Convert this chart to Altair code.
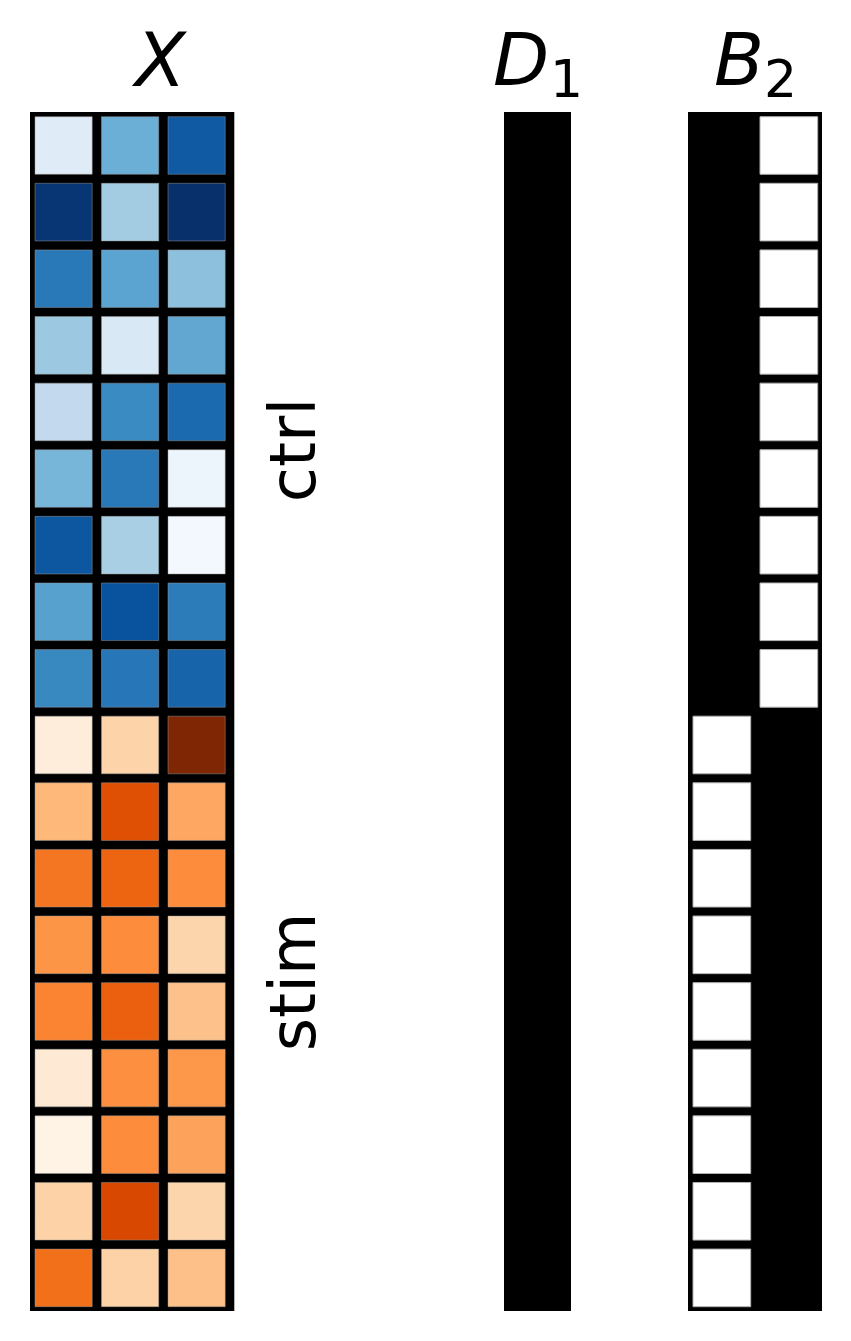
import altair as alt
import pandas as pd

# ---------------- data ----------------
# X: 9 "ctrl" rows (Blues) and 9 "stim" rows (Oranges), 3 columns each,
# values are positions on the colour map (0 = lightest, 1 = darkest)
ctrl_values = [
    [0.12, 0.50, 0.84],
    [0.98, 0.36, 1.00],
    [0.72, 0.55, 0.42],
    [0.38, 0.15, 0.53],
    [0.26, 0.65, 0.78],
    [0.47, 0.72, 0.05],
    [0.85, 0.34, 0.02],
    [0.56, 0.87, 0.71],
    [0.66, 0.73, 0.80],
]
stim_values = [
    [0.07, 0.23, 1.00],
    [0.34, 0.72, 0.40],
    [0.58, 0.64, 0.50],
    [0.47, 0.50, 0.22],
    [0.53, 0.66, 0.30],
    [0.10, 0.49, 0.46],
    [0.02, 0.50, 0.42],
    [0.24, 0.75, 0.22],
    [0.60, 0.24, 0.31],
]
# D1: one indicator column, every sample = 1
d1_values = [1, 1, 1, 1, 1, 1, 1, 1, 1, 1, 1, 1, 1, 1, 1, 1, 1, 1]
# B2: two indicator columns (ctrl, stim)
b2_values = [
    [1, 0], [1, 0], [1, 0], [1, 0], [1, 0], [1, 0], [1, 0], [1, 0], [1, 0],
    [0, 1], [0, 1], [0, 1], [0, 1], [0, 1], [0, 1], [0, 1], [0, 1], [0, 1],
]
group_labels = ["ctrl", "stim"]
titles = ["X", "D", "B"]
subscripts = ["1", "2"]

blues = ["#f7fbff", "#deebf7", "#c6dbef", "#9ecae1", "#6baed6",
         "#4292c6", "#2171b5", "#08519c", "#08306b"]
oranges = ["#fff5eb", "#fee6ce", "#fdd0a2", "#fdae6b", "#fd8d3c",
           "#f16913", "#d94801", "#a63603", "#7f2704"]
stops = [i / 8 for i in range(9)]


def cells(matrix, row_start=0):
    recs = []
    for r, row in enumerate(matrix):
        for c, v in enumerate(row):
            recs.append({"row": row_start + r, "row2": row_start + r + 1,
                         "col": c, "col2": c + 1, "v": v})
    return pd.DataFrame(recs)


ctrl_df = cells(ctrl_values, 0)
stim_df = cells(stim_values, len(ctrl_values))
d1_df = cells([[v] for v in d1_values])
b2_df = cells(b2_values)

n_rows = len(ctrl_values) + len(stim_values)
yscale = alt.Scale(domain=[0, n_rows], range=[112, 1311])
x_X = alt.Scale(domain=[0, 3], range=[30, 229.5])
x_D = alt.Scale(domain=[0, 1], range=[504, 571])
x_B = alt.Scale(domain=[0, 2], range=[688, 822])
bw = alt.Scale(domain=[0, 1], range=["#ffffff", "#000000"])

INS = dict(xOffset=5, x2Offset=-4.3, yOffset=4.7, y2Offset=-4.3)


def background(df, xs, extra=0):
    panel = pd.DataFrame([{"x0": 0, "x1": df["col2"].max(),
                           "y0": 0, "y1": n_rows}])
    return alt.Chart(panel).mark_rect(color="black", x2Offset=extra).encode(
        x=alt.X("x0:Q", scale=xs, axis=None),
        x2="x1:Q",
        y=alt.Y("y0:Q", scale=yscale, axis=None),
        y2="y1:Q",
    )


def cell_layer(df, xs, color_scale, binary=False):
    enc = dict(
        x=alt.X("col:Q", scale=xs, axis=None),
        x2="col2:Q",
        y=alt.Y("row:Q", scale=yscale, axis=None),
        y2="row2:Q",
        fill=alt.Fill("v:Q", scale=color_scale, legend=None),
    )
    if binary:
        enc["stroke"] = alt.condition(alt.datum.v == 0,
                                      alt.value("#b0b0b0"), alt.value("#000000"))
        return alt.Chart(df).mark_rect(strokeWidth=1, **INS).encode(**enc)
    return alt.Chart(df).mark_rect(stroke="#9a9a9a", strokeWidth=0.8,
                                   strokeOpacity=0.6, **INS).encode(**enc)


blues_scale = alt.Scale(domain=stops, range=blues, interpolate="rgb")
oranges_scale = alt.Scale(domain=stops, range=oranges, interpolate="rgb")

one = pd.DataFrame([{"k": 0}])


def label(text, x, y, size, italic=False, angle=0, align="left"):
    kw = dict(text=text, font="DejaVu Sans", fontSize=size, color="black",
              align=align, baseline="alphabetic")
    if italic:
        kw["fontStyle"] = "italic"
    if angle:
        kw["angle"] = angle
    return alt.Chart(one).mark_text(**kw).encode(x=alt.value(x), y=alt.value(y))


layers = [
    background(ctrl_df, x_X, extra=4.8),
    cell_layer(ctrl_df, x_X, blues_scale),
    cell_layer(stim_df, x_X, oranges_scale),
    background(d1_df, x_D),
    cell_layer(d1_df, x_D, bw, binary=True),
    background(b2_df, x_B),
    cell_layer(b2_df, x_B, bw, binary=True),
    label(titles[0], 135, 86, 74, italic=True),
    label(titles[1], 493, 85, 73, italic=True),
    label(subscripts[0], 550, 97, 52),
    label(titles[2], 714, 85, 73, italic=True),
    label(subscripts[1], 764, 97, 52),
    label(group_labels[0], 315, 450, 64, angle=270, align="center"),
    label(group_labels[1], 315, 982, 64, angle=270, align="center"),
]

chart = alt.layer(*layers).resolve_scale(
    x="independent", color="independent", fill="independent",
    stroke="independent",
).properties(
    width=851, height=1341, padding=0, autosize="none",
    background="white",
).configure_view(stroke=None)

chart.save("out.html", embed_options={"renderer": "svg", "actions": False})
